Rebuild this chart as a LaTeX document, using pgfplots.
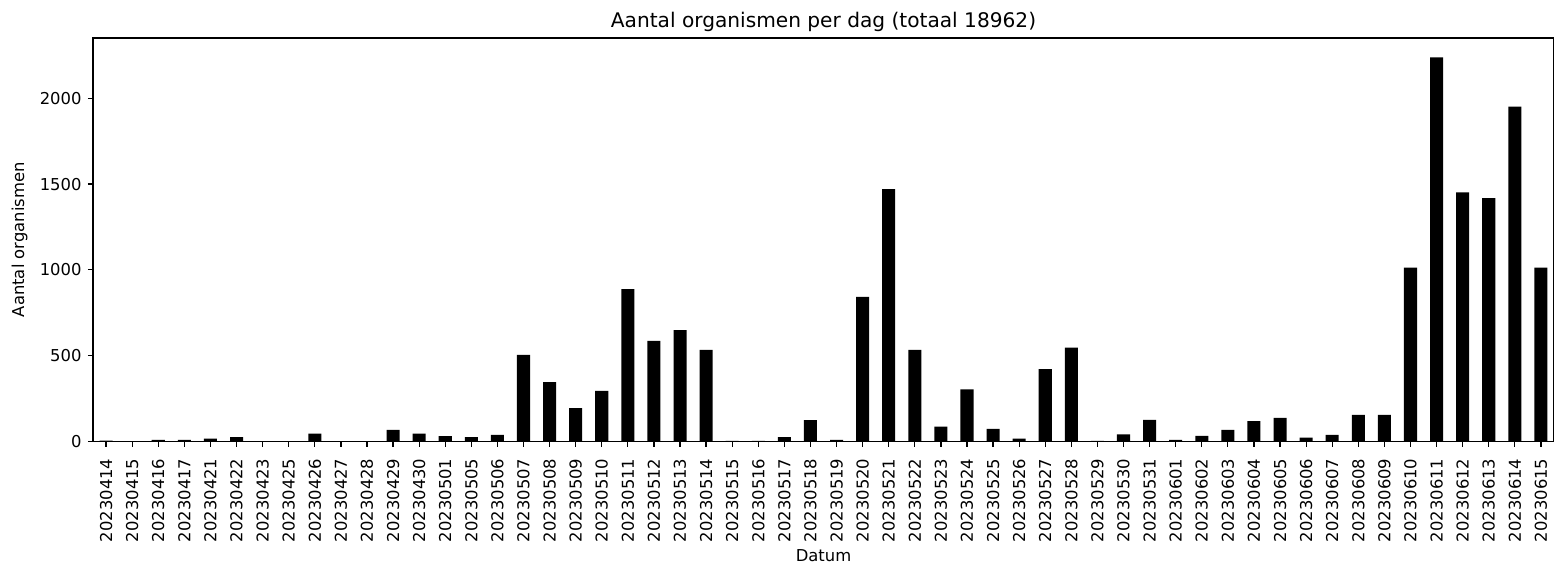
\documentclass[border=0pt]{standalone}
\usepackage{fontspec}
\setmainfont{DejaVu Sans}
\usepackage{pgfplots}
\usepackage{pgfplotstable}
\pgfplotsset{compat=1.18}
\pgfplotstableread{
x y
0 5
1 1
2 10
3 10
4 17
5 25
6 1
7 1
8 46
9 1
10 1
11 68
12 46
13 31
14 25
15 39
16 505
17 346
18 195
19 295
20 888
21 586
22 649
23 534
24 4
25 4
26 25
27 125
28 10
29 843
30 1470
31 534
32 87
33 303
34 74
35 17
36 422
37 547
38 4
39 41
40 126
41 10
42 33
43 68
44 118
45 138
46 23
47 39
48 155
49 155
50 1013
51 2239
52 1452
53 1418
54 1951
55 1013
}\datatable
\begin{document}
\begin{tikzpicture}
\useasboundingbox (-67pt,-90.4pt) rectangle (1052pt,317.9pt);
\begin{axis}[
  at={(0,0)}, anchor=south west,
  scale only axis, width=1052pt, height=290.5pt,
  xmin=-0.5, xmax=55.5, ymin=0, ymax=2351,
  ybar, bar width=0.5,
  xtick={0,...,55},
  xticklabels={20230414,20230415,20230416,20230417,20230421,20230422,20230423,20230425,20230426,20230427,20230428,20230429,20230430,20230501,20230505,20230506,20230507,20230508,20230509,20230510,20230511,20230512,20230513,20230514,20230515,20230516,20230517,20230518,20230519,20230520,20230521,20230522,20230523,20230524,20230525,20230526,20230527,20230528,20230529,20230530,20230531,20230601,20230602,20230603,20230604,20230605,20230606,20230607,20230608,20230609,20230610,20230611,20230612,20230613,20230614,20230615},
  ytick={0,500,1000,1500,2000},
  scaled y ticks=false,
  /pgf/number format/assume math mode=true,
  /pgf/number format/1000 sep={},
  tick align=outside,
  xtick pos=bottom, ytick pos=left,
  major tick length=3.8pt,
  tick style={black, line width=0.9pt},
  axis line style={line width=0.9pt},
  xticklabel shift=5pt,
  yticklabel shift=1pt,
  xticklabel style={rotate=90, anchor=east, font=\fontsize{11.8}{14}\selectfont},
  yticklabel style={font=\fontsize{11.8}{14}\selectfont},
  every axis title shift=0pt,
  title={Aantal organismen per dag (totaal 18962)},
  title style={at={(axis description cs:0.5,1.0273)}, anchor=base, font=\fontsize{14.5}{17}\selectfont, inner sep=0pt},
  xlabel={Datum},
  xlabel style={at={(axis description cs:0.5,-0.2987)}, anchor=base, font=\fontsize{11.8}{14}\selectfont, inner sep=0pt},
  ylabel={Aantal organismen},
  ylabel style={at={(axis description cs:-0.0471,0.5)}, anchor=base, font=\fontsize{11.8}{14}\selectfont, inner sep=0pt},
]
\addplot[fill=black, draw=none] table[x=x, y=y] {\datatable};
\end{axis}
\end{tikzpicture}
\end{document}
